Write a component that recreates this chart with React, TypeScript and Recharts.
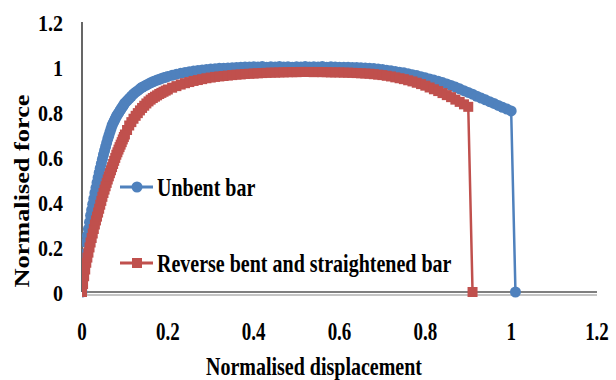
import React from 'react';
import { LineChart, Line, XAxis, YAxis, Legend, Label, ReferenceLine } from 'recharts';

// Unbent bar (blue, circles)
const unbentDisp = [
  0, 0.0025, 0.005, 0.0075, 0.01, 0.0125, 0.015, 0.0175, 0.02, 0.0225,
  0.025, 0.0275, 0.03, 0.0325, 0.035, 0.0375, 0.04, 0.0425, 0.045, 0.0475,
  0.05, 0.0525, 0.055, 0.0575, 0.06, 0.0625, 0.065, 0.0675, 0.07, 0.0725,
  0.075, 0.0775, 0.08, 0.0825, 0.085, 0.0875, 0.09, 0.0925, 0.095, 0.0975,
  0.1, 0.105, 0.11, 0.115, 0.12, 0.125, 0.13, 0.135, 0.14, 0.145,
  0.15, 0.155, 0.16, 0.165, 0.17, 0.175, 0.18, 0.185, 0.19, 0.195,
  0.2, 0.21, 0.22, 0.23, 0.24, 0.25, 0.26, 0.27, 0.28, 0.29,
  0.3, 0.31, 0.32, 0.33, 0.34, 0.35, 0.36, 0.37, 0.38, 0.39,
  0.4, 0.41, 0.42, 0.43, 0.44, 0.45, 0.46, 0.47, 0.48, 0.49,
  0.5, 0.51, 0.52, 0.53, 0.54, 0.55, 0.56, 0.57, 0.58, 0.59,
  0.6, 0.61, 0.62, 0.63, 0.64, 0.65, 0.66, 0.67, 0.68, 0.69,
  0.7, 0.71, 0.72, 0.73, 0.74, 0.75, 0.76, 0.77, 0.78, 0.79,
  0.8, 0.81, 0.82, 0.83, 0.84, 0.85, 0.86, 0.87, 0.88, 0.89,
  0.9, 0.91, 0.92, 0.93, 0.94, 0.95, 0.96, 0.97, 0.98, 0.99,
  1.0, 1.01,
];
const unbentForce = [
  0, 0.06, 0.12, 0.17, 0.22, 0.25, 0.28, 0.31, 0.34, 0.365,
  0.39, 0.415, 0.44, 0.463, 0.486, 0.508, 0.53, 0.55, 0.57, 0.59,
  0.61, 0.628, 0.646, 0.663, 0.68, 0.695, 0.71, 0.725, 0.74, 0.75,
  0.76, 0.77, 0.78, 0.788, 0.795, 0.803, 0.81, 0.818, 0.825, 0.833,
  0.84, 0.85, 0.86, 0.87, 0.88, 0.888, 0.895, 0.903, 0.91, 0.915,
  0.92, 0.925, 0.93, 0.934, 0.938, 0.942, 0.945, 0.949, 0.952, 0.955,
  0.958, 0.963, 0.968, 0.972, 0.976, 0.979, 0.982, 0.985, 0.987, 0.989,
  0.991, 0.992, 0.994, 0.995, 0.996, 0.997, 0.998, 0.999, 1.0, 1.0,
  1.001, 1.0, 1.002, 0.999, 1.001, 1.0, 1.002, 1.0, 1.001, 0.999,
  1.001, 1.0, 1.002, 1.0, 1.001, 1.0, 1.002, 0.999, 1.001, 1.0,
  0.999, 0.999, 0.999, 0.998, 0.998, 0.997, 0.996, 0.995, 0.993, 0.991,
  0.989, 0.986, 0.983, 0.98, 0.977, 0.974, 0.97, 0.966, 0.962, 0.957,
  0.952, 0.947, 0.942, 0.937, 0.931, 0.925, 0.918, 0.911, 0.903, 0.895,
  0.887, 0.879, 0.87, 0.862, 0.854, 0.846, 0.838, 0.829, 0.821, 0.813,
  0.805, 0,
];

// Reverse bent and straightened bar (red, squares)
const reverseDisp = [
  0, 0.0025, 0.005, 0.0075, 0.01, 0.0125, 0.015, 0.0175, 0.02, 0.0225,
  0.025, 0.0275, 0.03, 0.0325, 0.035, 0.0375, 0.04, 0.0425, 0.045, 0.0475,
  0.05, 0.0525, 0.055, 0.0575, 0.06, 0.0625, 0.065, 0.0675, 0.07, 0.0725,
  0.075, 0.0775, 0.08, 0.0825, 0.085, 0.0875, 0.09, 0.0925, 0.095, 0.0975,
  0.1, 0.105, 0.11, 0.115, 0.12, 0.125, 0.13, 0.135, 0.14, 0.145,
  0.15, 0.155, 0.16, 0.165, 0.17, 0.175, 0.18, 0.185, 0.19, 0.195,
  0.2, 0.21, 0.22, 0.23, 0.24, 0.25, 0.26, 0.27, 0.28, 0.29,
  0.3, 0.31, 0.32, 0.33, 0.34, 0.35, 0.36, 0.37, 0.38, 0.39,
  0.4, 0.41, 0.42, 0.43, 0.44, 0.45, 0.46, 0.47, 0.48, 0.49,
  0.5, 0.51, 0.52, 0.53, 0.54, 0.55, 0.56, 0.57, 0.58, 0.59,
  0.6, 0.61, 0.62, 0.63, 0.64, 0.65, 0.66, 0.67, 0.68, 0.69,
  0.7, 0.71, 0.72, 0.73, 0.74, 0.75, 0.76, 0.77, 0.78, 0.79,
  0.8, 0.81, 0.82, 0.83, 0.84, 0.85, 0.86, 0.87, 0.88, 0.89,
  0.9, 0.91,
];
const reverseForce = [
  0, 0.035, 0.07, 0.1, 0.13, 0.153, 0.175, 0.198, 0.22, 0.24,
  0.26, 0.28, 0.3, 0.318, 0.335, 0.353, 0.37, 0.388, 0.405, 0.423,
  0.44, 0.455, 0.47, 0.485, 0.5, 0.514, 0.528, 0.541, 0.555, 0.569,
  0.583, 0.596, 0.61, 0.621, 0.633, 0.644, 0.655, 0.666, 0.678, 0.689,
  0.7, 0.72, 0.74, 0.755, 0.77, 0.783, 0.795, 0.807, 0.818, 0.828,
  0.838, 0.847, 0.855, 0.862, 0.868, 0.874, 0.88, 0.885, 0.89, 0.895,
  0.9, 0.908, 0.915, 0.922, 0.928, 0.933, 0.938, 0.942, 0.946, 0.95,
  0.953, 0.956, 0.958, 0.96, 0.962, 0.964, 0.966, 0.967, 0.969, 0.97,
  0.971, 0.972, 0.973, 0.974, 0.975, 0.975, 0.976, 0.976, 0.977, 0.977,
  0.977, 0.978, 0.978, 0.978, 0.977, 0.978, 0.977, 0.977, 0.976, 0.976,
  0.976, 0.975, 0.975, 0.974, 0.973, 0.972, 0.971, 0.97, 0.968, 0.966,
  0.964, 0.961, 0.958, 0.954, 0.95, 0.946, 0.941, 0.936, 0.93, 0.924,
  0.917, 0.909, 0.901, 0.893, 0.884, 0.875, 0.866, 0.855, 0.845, 0.834,
  0.823, 0,
];

const xTicks = [0, 0.2, 0.4, 0.6, 0.8, 1, 1.2];
const yTicks = [0, 0.2, 0.4, 0.6, 0.8, 1, 1.2];

const unbentData = unbentDisp.map((d, i) => ({ disp: d, force: unbentForce[i] }));
const reverseData = reverseDisp.map((d, i) => ({ disp: d, force: reverseForce[i] }));

const BLUE = '#4F81BD';
const RED = '#C0504D';
const FONT = '"Liberation Serif", "Times New Roman", serif';
const textStyle = { fontFamily: FONT, fontWeight: 'bold', fill: '#000' } as const;

const SquareDot = (props: any) => {
  const { cx, cy, index } = props;
  if (cx == null || cy == null) return null;
  return <rect key={`sq-${index}`} x={cx - 5} y={cy - 5} width={10} height={10} fill={RED} />;
};

const CircleDot = (props: any) => {
  const { cx, cy, index } = props;
  if (cx == null || cy == null) return null;
  return <circle key={`ci-${index}`} cx={cx} cy={cy} r={5.5} fill={BLUE} />;
};

// the source image is stretched vertically, so text is a bit tall
const XTick = ({ x, y, payload }: any) => (
  <text transform={`translate(${x},${y}) scale(1,1.3)`} textAnchor="middle" dy="0.71em" fontSize={19} style={textStyle}>
    {payload.value}
  </text>
);

const YTick = ({ x, y, payload }: any) => (
  <text transform={`translate(${x},${y}) scale(1,1.2)`} textAnchor="end" dy="0.36em" fontSize={20} style={textStyle}>
    {payload.value}
  </text>
);

const legendText = { display: 'inline-block', transform: 'scaleY(1.3)', marginLeft: 3 };

const LegendBox = () => (
  <div style={{ fontFamily: FONT, fontWeight: 'bold', fontSize: 20, color: '#000' }}>
    <div style={{ display: 'flex', alignItems: 'center', height: 24 }}>
      <svg width={34} height={14}>
        <line x1={0} y1={7} x2={33} y2={7} stroke={BLUE} strokeWidth={3} />
        <circle cx={17} cy={7} r={5.5} fill={BLUE} />
      </svg>
      <span style={legendText}>Unbent bar</span>
    </div>
    <div style={{ display: 'flex', alignItems: 'center', height: 24, marginTop: 52 }}>
      <svg width={34} height={14}>
        <line x1={0} y1={7} x2={33} y2={7} stroke={RED} strokeWidth={3} />
        <rect x={12} y={2} width={10} height={10} fill={RED} />
      </svg>
      <span style={legendText}>Reverse bent and straightened bar</span>
    </div>
  </div>
);

export default function App() {
  return (
    <div style={{ position: 'absolute', left: 0, top: 0, background: '#fff' }}>
      <LineChart width={616} height={380} margin={{ top: 22, right: 19, bottom: 0, left: 0 }}>
        {/* grey shadow under the x axis */}
        <ReferenceLine y={-0.013} stroke="#c4c4c4" strokeWidth={2} ifOverflow="visible" />
        <XAxis
          type="number"
          dataKey="disp"
          domain={[0, 1.2]}
          ticks={xTicks}
          allowDataOverflow
          tickLine={false}
          tickSize={6}
          tickMargin={24}
          axisLine={{ stroke: '#000', strokeWidth: 1.2 }}
          tick={<XTick />}
          height={88}
        >
          <Label
            content={() => (
              <text transform="translate(314,375) scale(1,1.3)" textAnchor="middle" fontSize={20} style={textStyle}>
                Normalised displacement
              </text>
            )}
          />
        </XAxis>
        <YAxis
          type="number"
          domain={[0, 1.2]}
          ticks={yTicks}
          tickLine={false}
          tickSize={6}
          tickMargin={13}
          axisLine={{ stroke: '#000', strokeWidth: 1.2 }}
          tick={<YTick />}
          width={82}
        >
          <Label
            content={() => (
              <text
                x={22}
                y={191}
                textAnchor="middle"
                dominantBaseline="central"
                transform="rotate(-90 22 191)"
                fontSize={20}
                textLength={193}
                lengthAdjust="spacingAndGlyphs"
                style={textStyle}
              >
                Normalised force
              </text>
            )}
          />
        </YAxis>
        <Legend
          layout="horizontal"
          verticalAlign="middle"
          align="center"
          content={<LegendBox />}
          wrapperStyle={{ position: 'absolute', left: 120, top: 175, width: 'auto' }}
        />
        <Line
          data={unbentData}
          dataKey="force"
          name="Unbent bar"
          stroke={BLUE}
          strokeWidth={2.5}
          dot={CircleDot}
          activeDot={false}
          isAnimationActive={false}
        />
        <Line
          data={reverseData}
          dataKey="force"
          name="Reverse bent and straightened bar"
          stroke={RED}
          strokeWidth={2.5}
          dot={SquareDot}
          activeDot={false}
          isAnimationActive={false}
        />
      </LineChart>
    </div>
  );
}
